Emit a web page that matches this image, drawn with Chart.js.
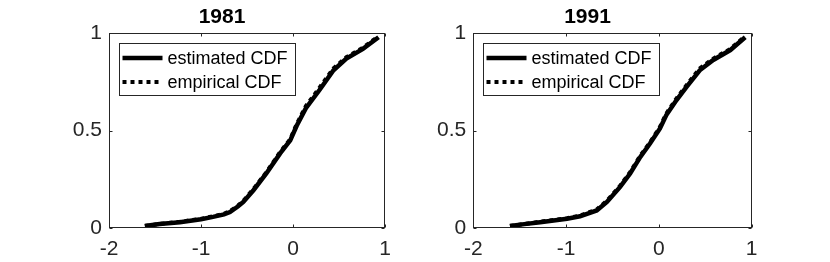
<!DOCTYPE html>
<html>
<head>
<meta charset="utf-8">
<script src="https://cdn.jsdelivr.net/npm/chart.js@4.4.1/dist/chart.umd.min.js"></script>
<style>
    html, body { margin: 0; padding: 0; background: #fff; }
    #wrap { position: relative; width: 830px; height: 262px; }
    .panel { position: absolute; top: 0; width: 415px; height: 262px; }
</style>
</head>
<body>
<div id="wrap">
    <div class="panel" style="left:0"><canvas id="c1981"></canvas></div>
    <div class="panel" style="left:415px"><canvas id="c1991"></canvas></div>
</div>
<script>
// values
const x1981 = [-1.61, -1.45, -1.23, -1.0, -0.87, -0.75, -0.685, -0.6, -0.54, -0.43, -0.29, -0.14, -0.03, 0.04, 0.14, 0.29, 0.44, 0.58, 0.76, 0.93];
const est1981 = [0.01, 0.02, 0.03, 0.045, 0.057, 0.07, 0.082, 0.11, 0.134, 0.194, 0.28, 0.383, 0.45, 0.525, 0.615, 0.71, 0.81, 0.87, 0.92, 0.98];
const emp1981 = [0.01, 0.021, 0.032, 0.047, 0.06, 0.073, 0.087, 0.114, 0.14, 0.2, 0.286, 0.39, 0.456, 0.534, 0.626, 0.722, 0.82, 0.877, 0.926, 0.985];

const x1991 = [-1.605, -1.45, -1.28, -0.99, -0.85, -0.67, -0.56, -0.42, -0.31, -0.2, -0.096, 0.01, 0.08, 0.19, 0.3, 0.44, 0.586, 0.77, 0.93];
const est1991 = [0.01, 0.02, 0.03, 0.048, 0.06, 0.09, 0.134, 0.21, 0.28, 0.365, 0.434, 0.51, 0.58, 0.657, 0.726, 0.81, 0.863, 0.914, 0.98];
const emp1991 = [0.01, 0.021, 0.032, 0.05, 0.064, 0.095, 0.14, 0.216, 0.287, 0.372, 0.44, 0.518, 0.588, 0.666, 0.735, 0.82, 0.87, 0.92, 0.985];

const seriesLabels = ['estimated CDF', 'empirical CDF'];
const xTicks = [-2, -1, 0, 1];
const yTicks = [0, 0.5, 1];

const FONT = '"Liberation Sans", Arial, Helvetica, sans-serif';
const AXIS_COLOR = '#262626';

function toPoints(xs, ys) {
    return xs.map((x, i) => ({x: x, y: ys[i]}));
}

// box round the axes with inward ticks on all four sides, like matlab
const axesBox = {
    id: 'axesBox',
    afterDraw(chart) {
        const {ctx, chartArea: a, scales} = chart;
        const l = Math.round(a.left) + 0.5, r = Math.round(a.right) - 0.5;
        const t = Math.round(a.top) + 0.5, b = Math.round(a.bottom) - 0.5;
        ctx.save();
        ctx.strokeStyle = AXIS_COLOR;
        ctx.lineWidth = 1;
        ctx.strokeRect(l, t, r - l, b - t);
        ctx.beginPath();
        scales.x.ticks.forEach(tick => {
            const px = Math.round(scales.x.getPixelForValue(tick.value)) + 0.5;
            ctx.moveTo(px, b); ctx.lineTo(px, b - 3);
            ctx.moveTo(px, t); ctx.lineTo(px, t + 3);
        });
        scales.y.ticks.forEach(tick => {
            const py = Math.round(scales.y.getPixelForValue(tick.value)) + 0.5;
            ctx.moveTo(l, py); ctx.lineTo(l + 3, py);
            ctx.moveTo(r, py); ctx.lineTo(r - 3, py);
        });
        ctx.stroke();
        ctx.restore();
    }
};

// legend box in the upper left corner of the axes
const legendBox = {
    id: 'legendBox',
    afterDraw(chart) {
        const {ctx, chartArea: a} = chart;
        const x = Math.round(a.left) + 10.5, y = Math.round(a.top) + 10.5;
        const w = 176, h = 52;
        ctx.save();
        ctx.fillStyle = '#fff';
        ctx.fillRect(x, y, w, h);
        ctx.strokeStyle = AXIS_COLOR;
        ctx.lineWidth = 1;
        ctx.strokeRect(x, y, w, h);
        chart.data.datasets.forEach((ds, i) => {
            const ly = y + 14.5 + i * 24;
            ctx.beginPath();
            ctx.setLineDash(ds.borderDash || []);
            ctx.lineWidth = ds.borderWidth;
            ctx.strokeStyle = ds.borderColor;
            ctx.moveTo(x + 3, ly);
            ctx.lineTo(x + 43, ly);
            ctx.stroke();
            ctx.setLineDash([]);
            ctx.fillStyle = '#000';
            ctx.font = '18px ' + FONT;
            ctx.textBaseline = 'middle';
            ctx.fillText(ds.label, x + 48, ly + 1);
        });
        ctx.restore();
    }
};

function drawPanel(canvasId, title, xs, est, emp, padLeft, padRight) {
    const ctx = document.getElementById(canvasId).getContext('2d');
    const config = {
        type: 'scatter',
        data: {
            datasets: [{
                label: seriesLabels[0],
                data: toPoints(xs, est),
                showLine: true,
                borderColor: '#000',
                borderWidth: 4.5,
                pointRadius: 0,
                order: 2
            }, {
                label: seriesLabels[1],
                data: toPoints(xs, emp),
                showLine: true,
                borderColor: '#000',
                borderWidth: 4,
                borderDash: [4, 4],
                pointRadius: 0,
                order: 1
            }]
        },
        plugins: [axesBox, legendBox],
        options: {
            animation: false,
            responsive: true,
            maintainAspectRatio: false,
            layout: {
                padding: {left: padLeft, right: padRight, top: 0, bottom: 0}
            },
            scales: {
                x: {
                    type: 'linear',
                    min: -2,
                    max: 1,
                    afterBuildTicks: scale => {
                        scale.ticks = xTicks.map(v => ({value: v}));
                    },
                    afterFit: scale => { scale.height = 34; },
                    grid: { display: false, drawTicks: false },
                    border: { display: false },
                    ticks: {
                        padding: 9,
                        color: AXIS_COLOR,
                        font: { family: FONT, size: 21 },
                        maxRotation: 0,
                        callback: v => String(v)
                    }
                },
                y: {
                    type: 'linear',
                    min: 0,
                    max: 1,
                    afterBuildTicks: scale => {
                        scale.ticks = yTicks.map(v => ({value: v}));
                    },
                    afterFit: scale => { scale.width = 50; },
                    grid: { display: false, drawTicks: false },
                    border: { display: false },
                    ticks: {
                        padding: 7,
                        color: AXIS_COLOR,
                        font: { family: FONT, size: 21 },
                        callback: v => String(v)
                    }
                }
            },
            plugins: {
                title: {
                    display: true,
                    text: title,
                    color: '#000',
                    font: { family: FONT, size: 21, weight: 'bold' },
                    padding: { top: 5, bottom: 3.1 }
                },
                legend: { display: false },
                tooltip: { enabled: false }
            }
        }
    };
    return new Chart(ctx, config);
}

drawPanel('c1981', '1981', x1981, est1981, emp1981, 59, 30);
drawPanel('c1991', '1991', x1991, est1991, emp1991, 8.3, 78.3);
</script>
</body>
</html>
